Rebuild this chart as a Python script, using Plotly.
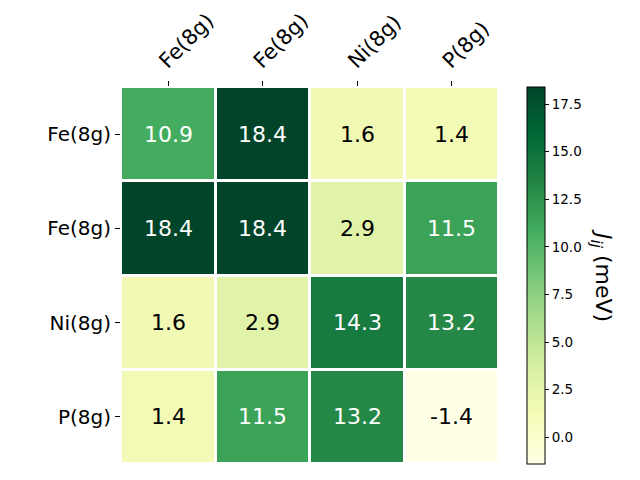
import plotly.graph_objects as go
import plotly.express as px

labels = ["Fe(8g)", "Fe(8g)", "Ni(8g)", "P(8g)"]
jij = [
    [10.9, 18.4, 1.6, 1.4],
    [18.4, 18.4, 2.9, 11.5],
    [1.6, 2.9, 14.3, 13.2],
    [1.4, 11.5, 13.2, -1.4],
]
cbar_ticks = [0.0, 2.5, 5.0, 7.5, 10.0, 12.5, 15.0, 17.5]

idx = list(range(len(labels)))
zmin = min(min(r) for r in jij)
zmax = max(max(r) for r in jij)
thresh = (zmin + zmax) / 2

fig = go.Figure()
fig.add_trace(go.Heatmap(
    z=jij, x=idx, y=idx,
    colorscale=px.colors.sequential.YlGn,
    zmin=zmin, zmax=zmax,
    xgap=3, ygap=3,
    colorbar=dict(
        x=1.074, xanchor="left", xpad=0, ypad=0,
        y=0.5, yanchor="middle", len=1, lenmode="fraction",
        thickness=18, outlinecolor="black", outlinewidth=1,
        tickvals=cbar_ticks, ticktext=[f"{t:.1f}" for t in cbar_ticks],
        ticks="outside", ticklen=4, tickcolor="black",
        tickfont=dict(size=13.5, color="black"),
    ),
    hoverinfo="skip",
))

for i, row in enumerate(jij):
    for j, v in enumerate(row):
        fig.add_annotation(
            x=j, y=i, text=f"{v:.1f}", showarrow=False,
            font=dict(size=22, color="white" if v > thresh else "black"),
        )

fig.add_annotation(
    xref="paper", yref="paper", x=1.315, y=0.5,
    text="<i>J</i><sub><i>ij</i></sub> (meV)", textangle=90, showarrow=False,
    font=dict(size=22, color="black"),
)

fig.update_xaxes(
    side="top", tickvals=idx, ticktext=labels, tickangle=-45,
    ticks="outside", ticklen=5, tickcolor="black", ticklabelshift=-8,
    tickfont=dict(size=21, color="black"),
    showgrid=False, zeroline=False, range=[-0.5, 3.5],
)
fig.update_yaxes(
    tickvals=idx, ticktext=labels, autorange=False, range=[3.5, -0.5],
    ticks="outside", ticklen=5, tickcolor="black",
    tickfont=dict(size=20, color="black"),
    showgrid=False, zeroline=False,
)

# page body has an 8px margin, so the figure is a bit smaller than the window
fig.update_layout(
    width=632, height=472,
    margin=dict(l=113, r=141, t=79, b=16, autoexpand=False),
    paper_bgcolor="white", plot_bgcolor="white",
    font=dict(family="DejaVu Sans"),
)

fig.write_html("out.html")
